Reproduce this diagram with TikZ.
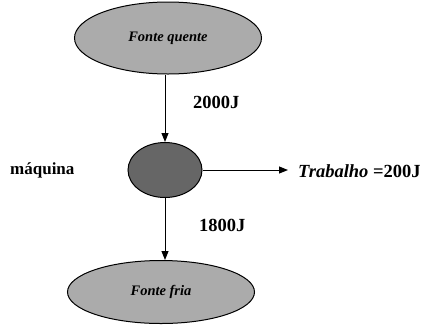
\documentclass[tikz,border=0pt]{standalone}
\usepackage{fontspec}
\setmainfont{Liberation Serif}
\usetikzlibrary{arrows.meta,shapes.geometric}
\begin{document}
\begin{tikzpicture}[x=1pt,y=-1pt,
  src/.style={ellipse,draw,line width=1pt,fill=black!33,inner sep=0pt,font=\fontsize{14.5}{16}\selectfont\bfseries\itshape},
  eng/.style={ellipse,draw,line width=1pt,fill=black!60,inner sep=0pt},
  lbl/.style={font=\fontsize{18.5}{20}\selectfont\bfseries,inner sep=0pt},
  flow/.style={line width=1pt,-{Triangle[length=9pt,width=7pt]}}]
\useasboundingbox (0,0) rectangle (427,325);
\node[src,minimum width=187pt,minimum height=72pt] (hot) at (168,38) {Fonte quente};
\node[eng,minimum width=74pt,minimum height=55pt] (m) at (165,170) {};
\node[src,minimum width=187pt,minimum height=63pt] (cold) at (161,292) {Fonte fria};
\node[lbl,anchor=west] (q1) at (193,102) {2000J};
\node[lbl,anchor=west] (q2) at (199,225) {1800J};
\node[lbl,anchor=west,font=\fontsize{17}{19}\selectfont\bfseries] (maq) at (10,170) {máquina};
\coordinate (wend) at (288,170);
\node[lbl,anchor=west] (w) at (298,171) {\textit{Trabalho} =200J};
\draw[flow] (hot.south -| m.north) -- (m.north);
\draw[flow] (m.south) -- (m.south |- cold.north);
\draw[flow] (m.east) -- (wend);
\end{tikzpicture}
\end{document}
